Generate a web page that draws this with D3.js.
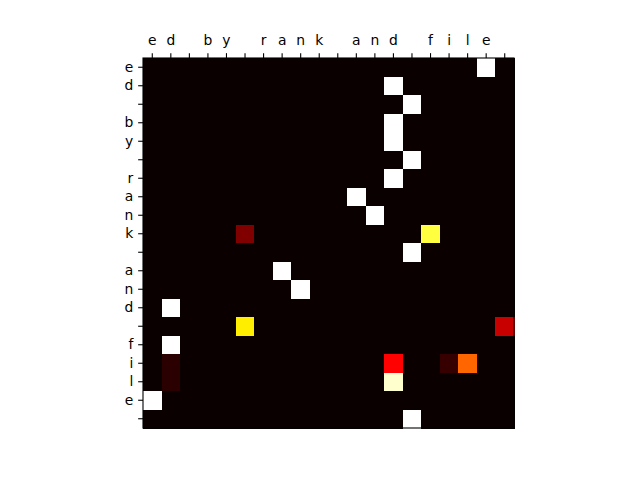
<!DOCTYPE html>
<html>
<head>
<meta charset="utf-8">
<script src="https://cdn.jsdelivr.net/npm/d3@7"></script>
<style>
  html, body { margin: 0; padding: 0; background: #fff; }
  svg { display: block; }
  text { font-family: "DejaVu Sans", sans-serif; font-size: 13.89px; fill: #000; }
</style>
</head>
<body>
<svg id="chart" width="640" height="480"></svg>
<script>
// Tick labels (characters)
const colLabels = ["e","d"," ","b","y"," ","r","a","n","k"," ","a","n","d"," ","f","i","l","e"," "];
const rowLabels = ["e","d"," ","b","y"," ","r","a","n","k"," ","a","n","d"," ","f","i","l","e"," "];

// Non-zero cells: row index, column index, value (0..1)
const cellRows = [0, 1, 2, 3, 4, 5, 6, 7, 8, 9, 9, 10, 11, 12, 13, 14, 14, 15, 16, 16, 16, 16, 17, 17, 18, 19];
const cellCols = [18, 13, 14, 13, 13, 14, 13, 11, 12, 5, 15, 14, 7, 8, 1, 5, 19, 1, 1, 13, 16, 17, 1, 13, 0, 14];
const cellVals = [1, 1, 1, 1, 1, 1, 1, 1, 1, 0.175, 0.81, 1, 1, 1, 1, 0.72, 0.283, 1, 0.047, 0.367, 0.066, 0.517, 0.047, 0.95, 1, 1];

// matplotlib "hot" colormap
function hot(t) {
  t = Math.max(0, Math.min(1, t));
  const r = t < 0.365079 ? 0.0416 + (1 - 0.0416) * t / 0.365079 : 1;
  const g = t < 0.365079 ? 0 : (t < 0.746032 ? (t - 0.365079) / (0.746032 - 0.365079) : 1);
  const b = t < 0.746032 ? 0 : (t - 0.746032) / (1 - 0.746032);
  return d3.rgb(Math.round(r * 255), Math.round(g * 255), Math.round(b * 255)).toString();
}

// Build full matrix
const nRows = rowLabels.length, nCols = colLabels.length;
const matrix = [];
for (let i = 0; i < nRows; i++) for (let j = 0; j < nCols; j++) matrix.push({ r: i, c: j, v: 0 });
cellRows.forEach((r, k) => { matrix[r * nCols + cellCols[k]].v = cellVals[k]; });

const svg = d3.select("#chart");
const plotLeft = 143, plotTop = 58, plotRight = 514, plotBottom = 428;

const x = d3.scaleBand().domain(d3.range(nCols)).range([plotLeft, plotRight]).paddingInner(0).paddingOuter(0);
const y = d3.scaleBand().domain(d3.range(nRows)).range([plotTop, plotBottom]).paddingInner(0).paddingOuter(0);
const color = d3.scaleSequential(hot).domain([0, 1]);

svg.append("g").selectAll("rect").data(matrix).join("rect")
  .attr("x", d => x(d.c))
  .attr("y", d => y(d.r))
  .attr("width", x.bandwidth() + 0.5)
  .attr("height", y.bandwidth() + 0.5)
  .attr("fill", d => color(d.v))
  .attr("shape-rendering", "crispEdges");

// Axes
const xAxis = d3.axisTop(x).tickFormat(i => colLabels[i]).tickSize(4.86).tickPadding(8.6);
const yAxis = d3.axisLeft(y).tickFormat(i => rowLabels[i]).tickSize(4.86).tickPadding(4.86);

const gx = svg.append("g").attr("transform", `translate(0,${plotTop})`).call(xAxis);
const gy = svg.append("g").attr("transform", `translate(${plotLeft},0)`).call(yAxis);
[gx, gy].forEach(g => {
  g.select(".domain").remove();
  g.selectAll("line").attr("stroke", "#000").attr("stroke-width", 1.1);
  g.selectAll("text").style("font-family", "'DejaVu Sans', sans-serif").style("font-size", "13.89px").attr("fill", "#000");
});

// Frame
svg.append("rect")
  .attr("x", plotLeft).attr("y", plotTop)
  .attr("width", plotRight - plotLeft).attr("height", plotBottom - plotTop)
  .attr("fill", "none").attr("stroke", "#000").attr("stroke-width", 1.1);
</script>
</body>
</html>
